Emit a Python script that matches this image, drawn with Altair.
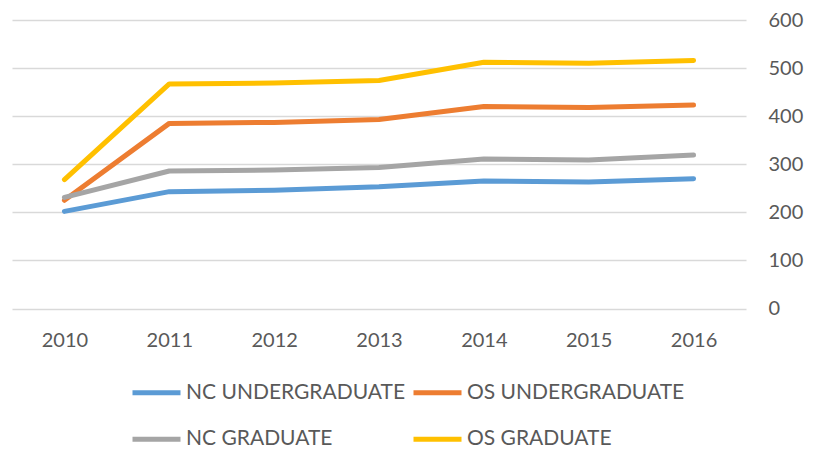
import altair as alt
import pandas as pd

years = ["2010", "2011", "2012", "2013", "2014", "2015", "2016"]
series_names = ["NC UNDERGRADUATE", "OS UNDERGRADUATE", "NC GRADUATE", "OS GRADUATE"]
nc_undergraduate = [202, 243, 246, 253, 265, 263, 270]
os_undergraduate = [225, 385, 387, 393, 420, 418, 423]
nc_graduate = [231, 286, 288, 293, 311, 309, 319]
os_graduate = [268, 467, 469, 474, 512, 510, 516]
colors = ["#5B9BD5", "#ED7D31", "#A5A5A5", "#FFC000"]
y_ticks = [0, 100, 200, 300, 400, 500, 600]

rows = []
for name, vals in zip(series_names, [nc_undergraduate, os_undergraduate, nc_graduate, os_graduate]):
    for yr, v in zip(years, vals):
        rows.append({"year": yr, "series": name, "value": v})
df = pd.DataFrame(rows)

FONT = "Lato"
TXT = "#595959"

chart = alt.Chart(df).mark_line(strokeWidth=5, strokeCap="round", strokeJoin="round").encode(
    x=alt.X("year:N", sort=years,
            scale=alt.Scale(type="point", padding=0.5),
            axis=alt.Axis(title=None, labelAngle=0, domain=False, ticks=False, grid=False,
                          labelFont=FONT, labelFontSize=20, labelColor=TXT, labelPadding=22)),
    y=alt.Y("value:Q", scale=alt.Scale(domain=[0, 600], nice=False),
            axis=alt.Axis(title=None, orient="right", values=y_ticks, domain=False, ticks=False,
                          grid=True, gridColor="#D9D9D9", gridWidth=1.5,
                          labelFont=FONT, labelFontSize=20, labelColor=TXT,
                          labelAlign="left", labelPadding=22)),
    color=alt.Color("series:N", sort=series_names,
                    scale=alt.Scale(domain=series_names, range=colors),
                    legend=alt.Legend(title=None, orient="none", legendX=118, legendY=362.7,
                                      direction="horizontal",
                                      columns=2, symbolType="stroke", symbolSize=2304,
                                      symbolStrokeWidth=5, clipHeight=20, rowPadding=25.6,
                                      columnPadding=5, labelOffset=3, padding=0,
                                      labelFont=FONT, labelFontSize=21, labelColor=TXT,
                                      labelLimit=400)),
).properties(
    width=734, height=288.5,
    autosize=alt.AutoSizeParams(type="none"),
    padding={"left": 4, "top": 12, "right": 63, "bottom": 141},
).configure_view(stroke=None)

chart.save("out.html", embed_options={"renderer": "svg", "actions": False})
